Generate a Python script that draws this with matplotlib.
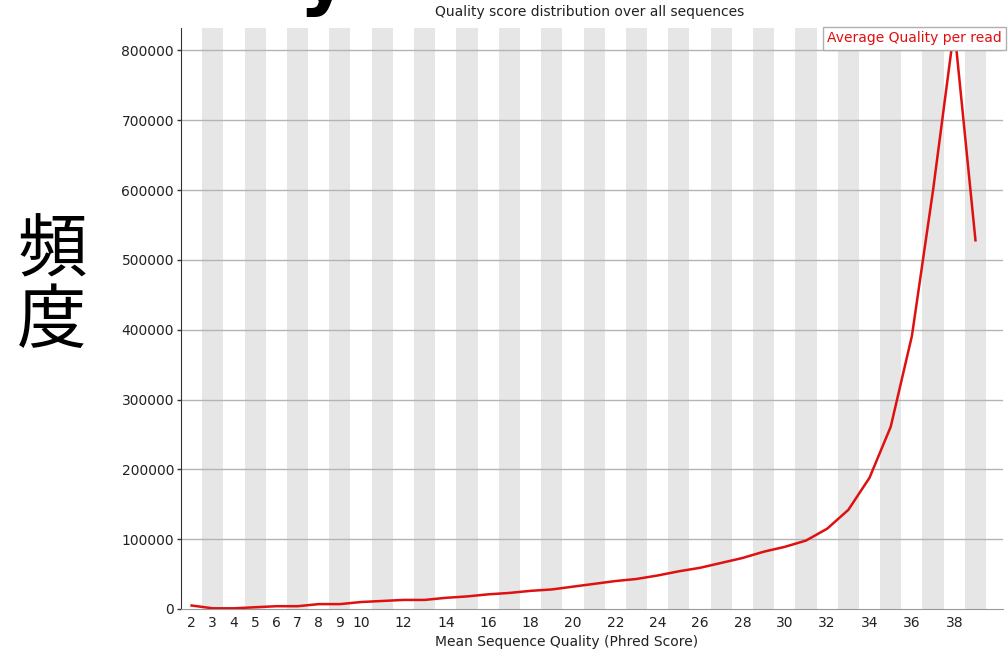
import matplotlib
matplotlib.use("Agg")
import matplotlib.pyplot as plt
import numpy as np

# Mean sequence quality (Phred) categories and read counts
quality = [2, 3, 4, 5, 6, 7, 8, 9, 10, 11, 12, 13, 14, 15, 16, 17, 18, 19, 20,
           21, 22, 23, 24, 25, 26, 27, 28, 29, 30, 31, 32, 33, 34, 35, 36, 37,
           38, 39]
counts = [5000, 1000, 1000, 2500, 4000, 4000, 7000, 7000, 10000, 11500, 13000,
          13000, 16000, 18000, 21000, 23000, 26000, 28000, 32000, 36000, 40000,
          43000, 48000, 54000, 59000, 66000, 73000, 82000, 89000, 98000, 115000,
          142000, 188000, 261000, 391000, 600000, 832000, 528000]
shown_labels = [2, 3, 4, 5, 6, 7, 8, 9, 10, 12, 14, 16, 18, 20, 22, 24, 26,
                28, 30, 32, 34, 36, 38]
y_ticks = [0, 100000, 200000, 300000, 400000, 500000, 600000, 700000, 800000]

W, H = 1008, 654
fig = plt.figure(figsize=(W / 100, H / 100), dpi=100)
ax = fig.add_axes([181 / W, 1 - 609 / H, (1003 - 181) / W, (609 - 28) / H])

idx = np.arange(len(quality))

# alternating background bands
for i in idx:
    if i % 2 == 1:
        ax.axvspan(i - 0.5, i + 0.5, color="#e6e6e6", lw=0, zorder=0)

for v in y_ticks[1:]:
    ax.axhline(v, color="#b4b4b4", lw=1, zorder=1)

ax.plot(idx, counts, color="#e01010", lw=1.8, zorder=3, solid_joinstyle="round")

ax.set_xlim(-0.5, len(quality) - 0.5 + 0.8)
ax.set_ylim(0, max(counts))

ax.set_yticks(y_ticks)
ax.set_yticklabels([str(v) for v in y_ticks], fontsize=10, color="#222222")
pos = [quality.index(q) for q in shown_labels]
ax.set_xticks(pos)
ax.set_xticklabels([str(q) for q in shown_labels], fontsize=10, color="#222222")
ax.tick_params(axis="x", length=0, pad=5)
ax.tick_params(axis="y", length=3, width=1, color="#333333", pad=2)

for s in ["top", "right"]:
    ax.spines[s].set_visible(False)
ax.spines["left"].set_color("#333333")
ax.spines["bottom"].set_color("#999999")

# legend-style label box
ax.text(0.9985, 0.994, "Average Quality per read", transform=ax.transAxes,
        ha="right", va="top", fontsize=10, color="#e01010", zorder=5,
        bbox=dict(boxstyle="square,pad=0.3", fc="white", ec="#b0b0b0", lw=1))

fig.text(590 / W, 1 - 12 / H, "Quality score distribution over all sequences",
         ha="center", va="center", fontsize=10, color="#222222")
fig.text(567 / W, 1 - 642 / H, "Mean Sequence Quality (Phred Score)",
         ha="center", va="center", fontsize=10, color="#222222")

fig.text(52 / W, 1 - 287 / H, "頻\n度", ha="center", va="center",
         fontsize=50, linespacing=1.0,
         family=["Noto Sans CJK JP", "DejaVu Sans"])

# descender of the large heading above the frame
fig.text(298 / W, 1.0, "y", ha="left", va="baseline", fontsize=56,
         fontweight="bold", color="black")

fig.savefig("out.png", dpi=100)
